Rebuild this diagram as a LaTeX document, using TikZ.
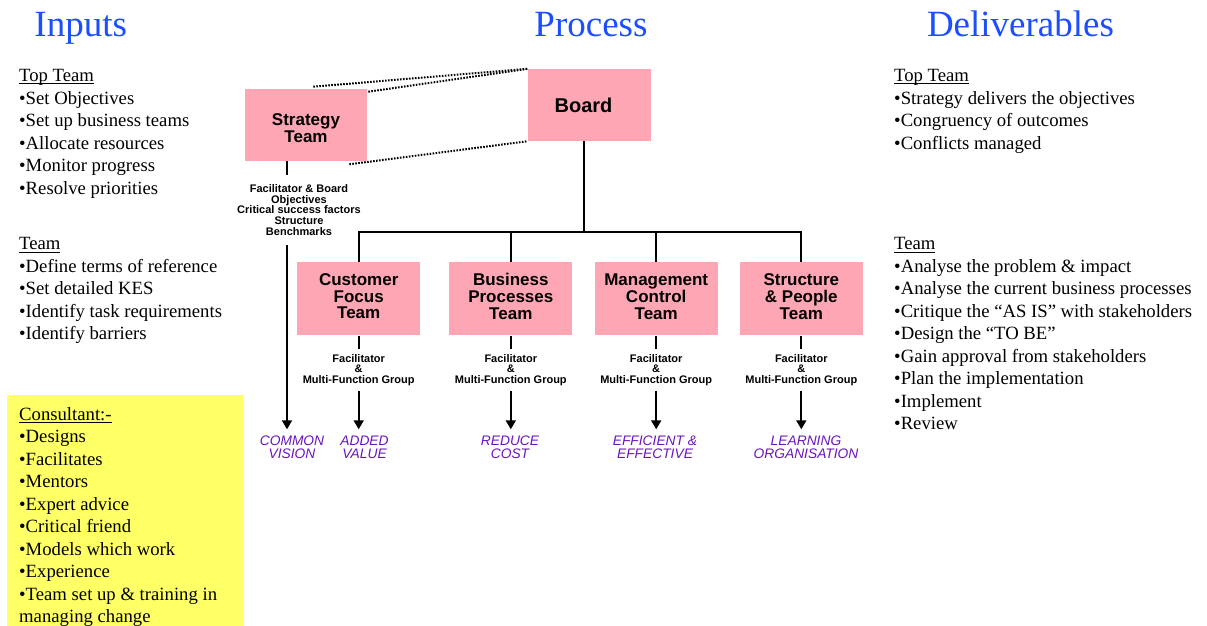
\documentclass[tikz,border=0pt]{standalone}
\usepackage{fontspec}
\setmainfont{Liberation Serif}
\newfontfamily\arialfont{Liberation Sans}
\usetikzlibrary{arrows.meta}
\definecolor{boxpink}{RGB}{255,166,180}
\definecolor{notepad}{RGB}{255,255,102}
\definecolor{headblue}{RGB}{28,78,255}
\definecolor{outcomepurple}{RGB}{106,20,190}
% underline set at a fixed distance below the baseline
\newcommand\ulword[1]{\setbox0\hbox{#1}\rlap{\rule[-2.7pt]{\wd0}{1pt}}\box0}
% box caption moved up or down without changing its reported size
\newcommand\liftlines[2]{\raisebox{#1}[\height][\depth]{\begin{tabular}{@{}c@{}}#2\end{tabular}}}

\begin{document}
\begin{tikzpicture}[x=1pt,y=-1pt,
  heading/.style={anchor=base, inner sep=0, text=headblue, font=\fontsize{37}{40}\selectfont},
  body/.style={anchor=base west, inner sep=0, font=\fontsize{18.7}{22.5}\selectfont},
  teambox/.style={fill=boxpink, minimum width=123pt, minimum height=73pt, inner sep=0,
    align=center, font=\arialfont\bfseries\fontsize{17}{16.3}\selectfont},
  smalllabel/.style={anchor=north, inner sep=0, align=center,
    font=\arialfont\bfseries\fontsize{11}{10.6}\selectfont},
  result/.style={anchor=north, inner sep=0, align=center, text=outcomepurple,
    font=\arialfont\itshape\fontsize{13.8}{12.5}\selectfont},
  conn/.style={line width=1.9pt},
  arr/.style={line width=1.9pt, -{Triangle[width=10pt,length=9pt]}},
  dots/.style={line width=2pt, dash pattern=on 1.6pt off 1.4pt},
]
\useasboundingbox (0,0) rectangle (1207,626);

% column headings
\node[heading] (hin) at (80.7,37) {Inputs};
\node[heading] (hproc) at (591,37) {Process};
\node[heading] (hdel) at (1020.5,37) {Deliverables};

% inputs
\node[body] (intoph) at (19,81.5) {\ulword{Top Team}};
\foreach \txt [count=\i from 0] in {Set Objectives, Set up business teams,
    Allocate resources, Monitor progress, Resolve priorities}
  \node[body] (intop\i) at (19,104+22.5*\i) {•\txt};
\node[body] (inteamh) at (19,249.8) {\ulword{Team}};
\foreach \txt [count=\i from 0] in {Define terms of reference, Set detailed KES,
    Identify task requirements, Identify barriers}
  \node[body] (inteam\i) at (19,272.3+22.5*\i) {•\txt};

% consultant note
\node[fill=notepad, anchor=north west, minimum width=235.5pt, minimum height=231pt,
  inner sep=0] (cbox) at (7,395) {};
\node[body] (consh) at (19,420.4) {\ulword{Consultant:-}};
\foreach \txt [count=\i from 0] in {Designs, Facilitates, Mentors, Expert advice,
    Critical friend, Models which work, Experience, Team set up \& training in}
  \node[body] (cons\i) at (19,442.9+22.5*\i) {•\txt};
\node[body] (consend) at (19,622.9) {managing change};

% deliverables
\node[body] (deltoph) at (894,81.5) {\ulword{Top Team}};
\foreach \txt [count=\i from 0] in {Strategy delivers the objectives,
    Congruency of outcomes, Conflicts managed}
  \node[body] (deltop\i) at (894,104+22.5*\i) {•\txt};
\node[body] (delteamh) at (894,249.8) {\ulword{Team}};
\foreach \txt [count=\i from 0] in {Analyse the problem \& impact,
    Analyse the current business processes,
    Critique the “AS IS” with stakeholders, Design the “TO BE”,
    Gain approval from stakeholders, Plan the implementation, Implement, Review}
  \node[body] (delteam\i) at (894,272.3+22.5*\i) {•\txt};

% process boxes
\node[teambox, minimum width=122pt, minimum height=72pt] (strat) at (306,125)
  {\liftlines{-5.5pt}{Strategy\\Team}};
\node[teambox, minimum height=72pt, font=\arialfont\bfseries\fontsize{20}{22}\selectfont]
  (board) at (589.5,105) {Board\kern12pt};
\node[teambox] (cft) at (358.7,298.8) {\liftlines{0pt}{Customer\\Focus\\Team}};
\node[teambox] (bpt) at (510.8,298.8) {\liftlines{0pt}{Business\\Processes\\Team}};
\node[teambox] (mct) at (656.2,298.8) {\liftlines{0pt}{Management\\Control\\Team}};
\node[teambox] (spt) at (801.3,298.8) {\liftlines{0pt}{Structure\\\& People\\Team}};

% dotted projection from the board to the strategy team
\coordinate (sA) at (313.3,86.7);
\coordinate (sB) at (368.3,91.7);
\coordinate (sC) at (349.3,164.3);
\draw[dots] (sA) -- (board.north west);
\draw[dots] (sB) -- (board.north west);
\draw[dots] (sC) -- (board.south west);

% board to team bus
\coordinate (busy) at (0,232.3);
\coordinate (bst) at ([xshift=-5.5pt]board.south);
\draw[conn] (bst) -- (bst |- busy);
\draw[conn] (cft.north) -- (cft.north |- busy) -- (spt.north |- busy) -- (spt.north);
\draw[conn] (bpt.north) -- (bpt.north |- busy);
\draw[conn] (mct.north) -- (mct.north |- busy);

% strategy team output
\coordinate (arrowend) at (0,429.3);
\coordinate (sst) at ([xshift=-19pt]strat.south);
\draw[conn] (sst) -- ++(0,14);
\node[smalllabel] (sfac) at (299,184.5)
  {Facilitator \& Board\\Objectives\\Critical success factors\\Structure\\Benchmarks};
\node[result] (cv) at (292,436) {COMMON\\VISION};
\draw[arr] (sst |- sfac.south) ++(0,10) -- (sst |- arrowend);

% team outputs
\node[smalllabel] (cftfac) at ([yshift=-18.5pt]cft.south) {Facilitator\\\&\\Multi-Function Group};
\node[smalllabel] (bptfac) at ([yshift=-18.5pt]bpt.south) {Facilitator\\\&\\Multi-Function Group};
\node[smalllabel] (mctfac) at ([yshift=-18.5pt]mct.south) {Facilitator\\\&\\Multi-Function Group};
\node[smalllabel] (sptfac) at ([yshift=-18.5pt]spt.south) {Facilitator\\\&\\Multi-Function Group};
\node[result] (cftres) at (364.5,436) {ADDED\\VALUE};
\node[result] (bptres) at (510,436) {REDUCE\\COST};
\node[result] (mctres) at (655,436) {EFFICIENT \&\\EFFECTIVE};
\node[result] (sptres) at (806,436) {LEARNING\\ORGANISATION};
\foreach \b in {cft,bpt,mct,spt} {
  \draw[conn] (\b.south) -- ++(0,13.3);
  \draw[arr] (\b fac.south) ++(0,5) -- (\b.south |- arrowend);
}
\end{tikzpicture}
\end{document}
